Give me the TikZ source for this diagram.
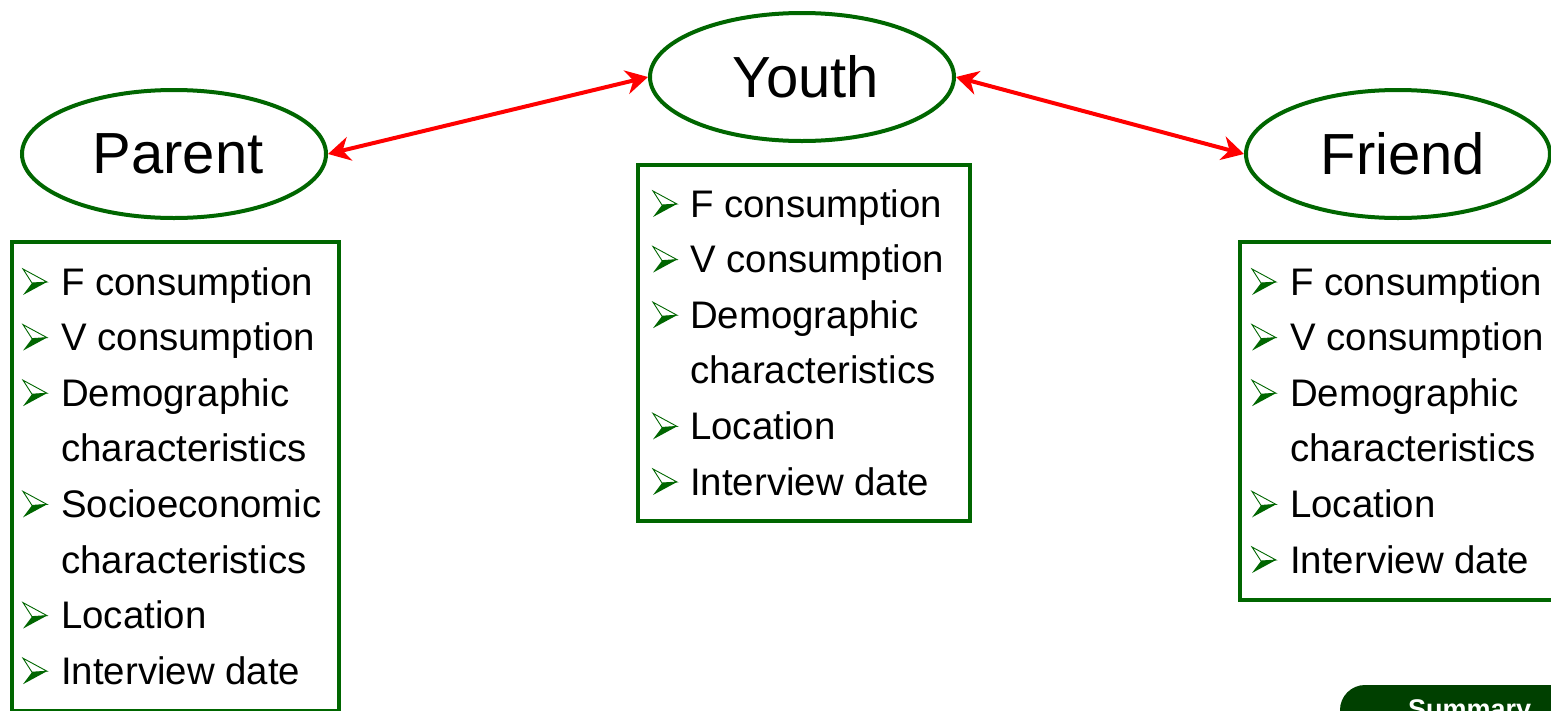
\documentclass[tikz,border=0pt]{standalone}
\usepackage{fontspec}
\setmainfont{Liberation Sans}
\usetikzlibrary{arrows.meta,shapes.geometric}
\definecolor{boxgreen}{RGB}{0,102,0}
\definecolor{btngreen}{RGB}{0,64,0}
\definecolor{arrred}{RGB}{255,0,0}
\begin{document}
\begin{tikzpicture}[x=1pt,y=-1pt,
  role/.style={ellipse, draw=boxgreen, line width=4pt, minimum width=304pt, minimum height=128pt, inner sep=0pt, font=\fontsize{58}{60}\selectfont},
  panel/.style={draw=boxgreen, line width=4pt, anchor=north west, inner sep=0pt, outer sep=0pt},
  item/.style={anchor=base west, inner sep=0pt, font=\fontsize{38.4}{40}\selectfont},
  link/.style={draw=arrred, line width=4pt, {Stealth[length=22pt,width=24pt,inset=7pt]}-{Stealth[length=22pt,width=24pt,inset=7pt]}},
  bul/.pic={
    \fill[boxgreen] (9,-12) -- (24,-13) -- (0,0) -- cycle;
    \draw[boxgreen, line width=0.9pt, line join=miter] (0,-26) -- (24,-13) -- (9,-12) -- cycle;
  }
]
\useasboundingbox (0,0) rectangle (1551,710);
\clip (0,0) rectangle (1551,710);

% ellipses
\node[role] (parent) at (174,154) {\hspace{8pt}Parent};
\node[role] (youth) at (802,77) {\hspace{8pt}Youth};
\node[role] (friend) at (1398,154) {\hspace{10pt}Friend};

% arrows
\draw[link] (parent.east) -- (youth.west);
\draw[link] (youth.east) -- (friend.west);

% boxes
\node[panel, minimum width=327pt, minimum height=469pt] (pbox) at (12,242) {};
\node[panel, minimum width=332pt, minimum height=356pt] (ybox) at (638,165) {};
\node[panel, minimum width=330pt, minimum height=358pt] (fbox) at (1240,242) {};

% parent items
\foreach \b/\t [count=\i] in {1/F consumption, 1/V consumption, 1/Demographic, 0/characteristics, 1/Socioeconomic, 0/characteristics, 1/Location, 1/Interview date}{
  \node[item] (p\i) at (61,{295+55.6*(\i-1)}) {\t};
  \ifnum\b=1 \pic at (23,{295+55.6*(\i-1)}) {bul}; \fi
}
% youth items
\foreach \b/\t [count=\i] in {1/F consumption, 1/V consumption, 1/Demographic, 0/characteristics, 1/Location, 1/Interview date}{
  \node[item] (y\i) at (690,{217+55.6*(\i-1)}) {\t};
  \ifnum\b=1 \pic at (653,{217+55.6*(\i-1)}) {bul}; \fi
}
% friend items
\foreach \b/\t [count=\i] in {1/F consumption, 1/V consumption, 1/Demographic, 0/characteristics, 1/Location, 1/Interview date}{
  \node[item] (f\i) at (1290,{295+55.6*(\i-1)}) {\t};
  \ifnum\b=1 \pic at (1252,{295+55.6*(\i-1)}) {bul}; \fi
}

% summary button
\node[fill=btngreen, rounded corners=25pt, minimum width=260pt, minimum height=80pt, anchor=north west, inner sep=0pt, outer sep=0pt] (summary) at (1340,685) {};
\node[anchor=base west, inner sep=0pt, text=white, font=\bfseries\fontsize{27}{28}\selectfont] (sumtext) at (1408,718) {Summary};
\end{tikzpicture}
\end{document}
